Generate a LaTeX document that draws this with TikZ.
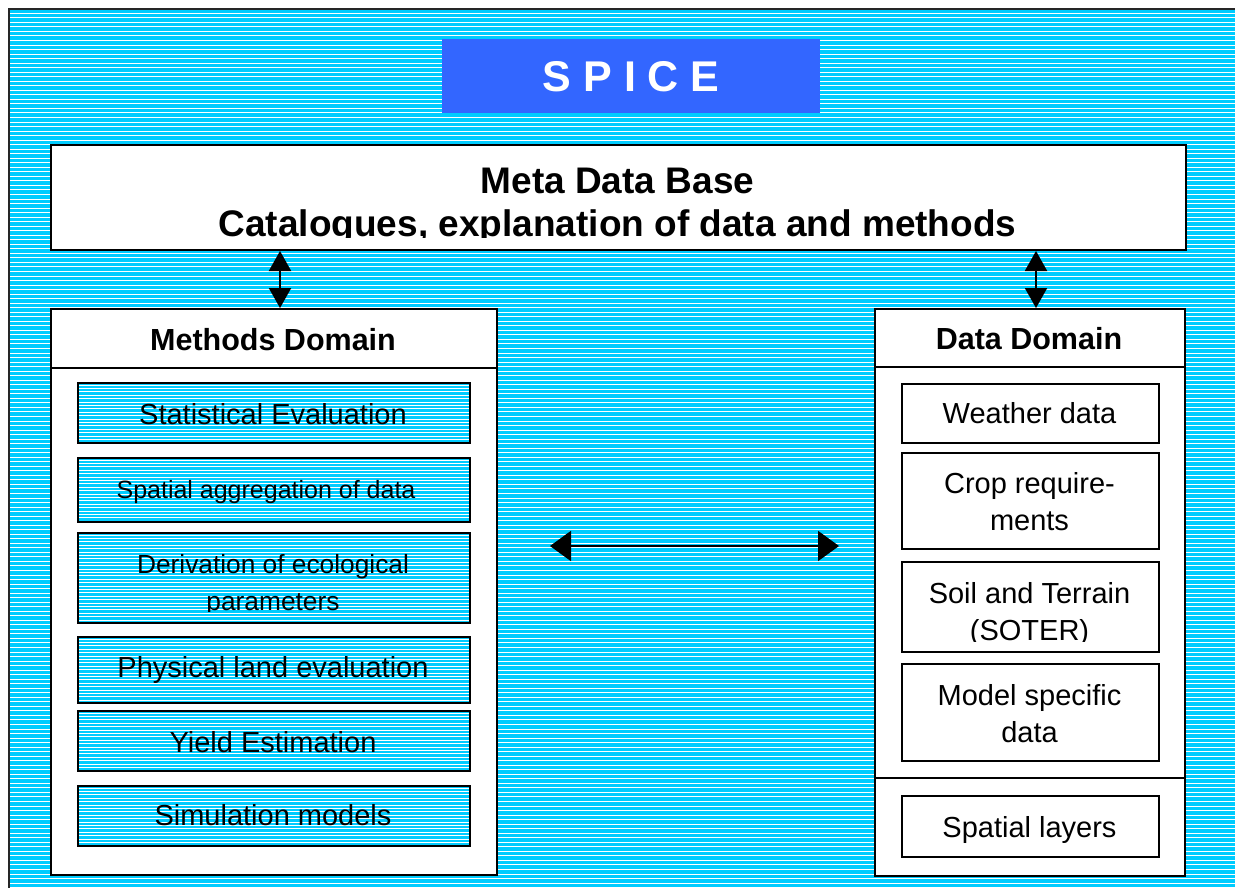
\documentclass[tikz,border=0pt]{standalone}
\usepackage{fontspec}
\setmainfont{Liberation Sans}
\usetikzlibrary{arrows.meta}
\definecolor{skyc}{HTML}{00CCFF}
\definecolor{spiceblue}{HTML}{3366FF}
% cyan fill crossed by thin white horizontal lines: step, first offset, count
\newcommand\hatchlines[3]{%
  \fill[skyc] (path picture bounding box.south west) rectangle (path picture bounding box.north east);
  \foreach \i in {0,...,#3}{
    \draw[white,line width=1bp]
      ([yshift={-(#2+\i*#1)*1bp}]path picture bounding box.north west) --
      ([yshift={-(#2+\i*#1)*1bp}]path picture bounding box.north east);
  }}
\newcommand\setsz[1]{\fontsize{#1bp}{#1bp}\selectfont}
\tikzset{
  box/.style={draw=black, line width=2bp, fill=white, inner sep=0pt, anchor=north west},
  hatched/.style n args={3}{fill=none, path picture={\hatchlines{#1}{#2}{#3}}},
  itembox/.style={box, hatched={3.4}{2}{30}, minimum width=392bp},
  databox/.style={box, line width=1.6bp, minimum width=257bp},
  txt/.style={inner sep=0pt, anchor=base, font=\setsz{29}},
  bigtxt/.style={inner sep=0pt, anchor=base, font=\setsz{37}\bfseries},
  headtxt/.style={inner sep=0pt, anchor=base, font=\setsz{30.5}\bfseries},
  dblv/.style={line width=2bp, {Triangle[length=20bp,width=22bp]}-{Triangle[length=20bp,width=22bp]}},
  dblh/.style={line width=2bp, {Triangle[length=21bp,width=30bp]}-{Triangle[length=21bp,width=30bp]}}
}
\begin{document}
\begin{tikzpicture}[x=1bp,y=-1bp]
\useasboundingbox (0,0) rectangle (1235,888);
\fill[white] (-5,-5) rectangle (1245,898);

% background field, bordered on the left and top only; it stops at the page edge
\node[anchor=north west, inner sep=0pt, outer sep=0pt, hatched={4.53}{4.3}{200}, minimum width=1226bp, minimum height=879bp] (frame) at (9,9) {};
\draw[line width=2.5bp, black!85] (frame.south west) -- (frame.north west) -- (frame.north east);

% title banner
\node[anchor=north west, fill=spiceblue, inner sep=0pt, minimum width=378bp, minimum height=74bp] (spice) at (442,39) {};
\node[inner sep=0pt, text=white, font=\setsz{43}\bfseries] (spicetext) at (spice.center) {S P I C E};

% meta data base
\node[box, minimum width=1135bp, minimum height=105bp] (meta) at (50,144) {};
\node[bigtxt] (metaA) at (617.5,193) {Meta Data Base};
\begin{scope}
  \clip (50,144) rectangle (1185,237.5);
  \node[bigtxt] (metaB) at (617.5,236) {Catalogues, explanation of data and methods};
\end{scope}

% methods domain
\node[box, minimum width=446bp, minimum height=566bp] (methods) at (50,308) {};
\draw[line width=2bp] ([yshift=-60bp]methods.north west) -- ([yshift=-60bp]methods.north east);
\node[headtxt] (methodsT) at (273,350) {Methods Domain};

\node[itembox, minimum height=60bp] (m1) at (77,382) {};
\node[itembox, minimum height=64bp] (m2) at (77,457) {};
\node[itembox, minimum height=90bp] (m3) at (77,532) {};
\node[itembox, minimum height=66bp] (m4) at (77,636) {};
\node[itembox, minimum height=60bp] (m5) at (77,710) {};
\node[itembox, minimum height=60bp] (m6) at (77,785) {};

\node[txt] (m1t) at (273,424) {Statistical Evaluation};
\node[txt, font=\setsz{25}] (m2t) at (266,498) {Spatial aggregation of data};
\begin{scope}
  \clip (77,532) rectangle (469,611.5);
  \node[txt, font=\setsz{26.3}] (m3t) at (273,573) {Derivation of ecological};
  \node[txt, font=\setsz{26.3}] (m3u) at (273,610) {parameters};
\end{scope}
\node[txt] (m4t) at (273,677) {Physical land evaluation};
\node[txt] (m5t) at (273,752) {Yield Estimation};
\node[txt] (m6t) at (273,825) {Simulation models};

% data domain
\node[box, minimum width=310bp, minimum height=567bp] (data) at (874,308) {};
\draw[line width=2bp] ([yshift=-59bp]data.north west) -- ([yshift=-59bp]data.north east);
\draw[line width=2bp] ([yshift=-470bp]data.north west) -- ([yshift=-470bp]data.north east);
\node[headtxt] (dataT) at (1029,349) {Data Domain};

\node[databox, minimum height=59bp] (d1) at (901,383) {};
\node[databox, minimum height=96bp] (d2) at (901,452) {};
\node[databox, minimum height=90bp] (d3) at (901,561) {};
\node[databox, minimum height=97bp] (d4) at (901,663) {};
\node[databox, minimum height=61bp] (d5) at (901,795) {};

\node[txt] (d1t) at (1029.5,423) {Weather data};
\node[txt] (d2t) at (1029.5,493) {Crop require-};
\node[txt] (d2u) at (1029.5,530) {ments};
\begin{scope}
  \clip (901,561) rectangle (1158,641);
  \node[txt] (d3t) at (1029.5,603) {Soil and Terrain};
  \node[txt] (d3u) at (1029.5,640) {(SOTER)};
\end{scope}
\node[txt] (d4t) at (1029.5,705) {Model specific};
\node[txt] (d4u) at (1029.5,742) {data};
\node[txt] (d5t) at (1029.5,837) {Spatial layers};

% links
\coordinate (lx) at (280,0);
\coordinate (rx) at (1036,0);
\draw[dblv] (meta.south -| lx) -- (methods.north -| lx);
\draw[dblv] (meta.south -| rx) -- (data.north -| rx);
\coordinate (ha) at (550,546);
\coordinate (hb) at (839,546);
\draw[dblh] (ha) -- (hb);
\end{tikzpicture}
\end{document}
